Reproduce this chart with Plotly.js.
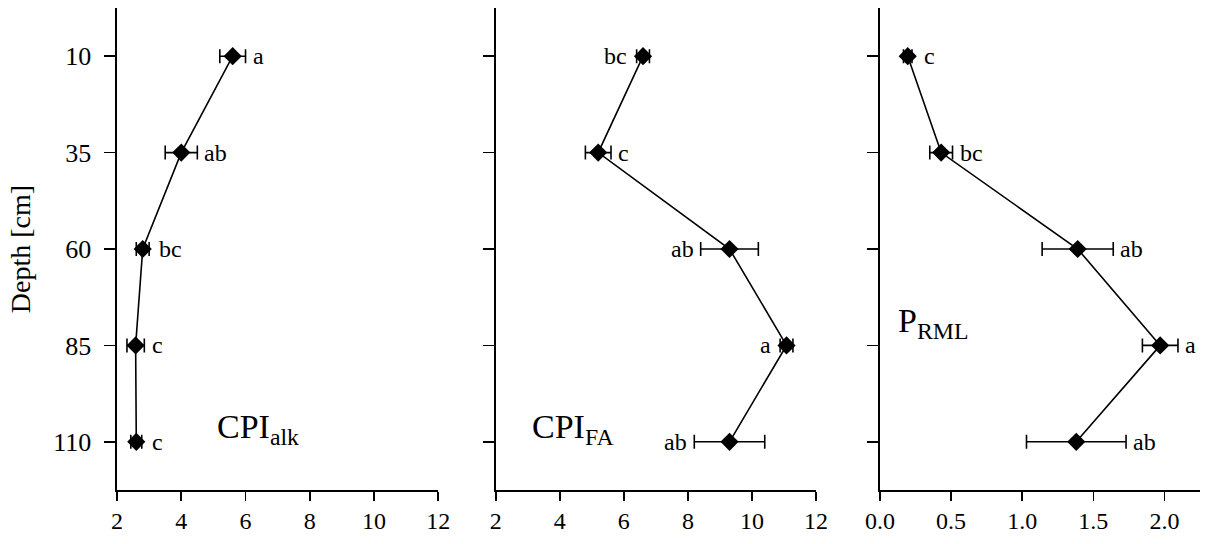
<!DOCTYPE html>
<html>
<head>
<meta charset="utf-8">
<script src="https://cdn.plot.ly/plotly-3.0.1.min.js"></script>
<style>html,body{margin:0;padding:0;background:#fff;}#chart{width:1208px;height:544px;}</style>
</head>
<body>
<div id="chart"></div>
<script>
// Depth levels [cm]
var depths = [10, 35, 60, 85, 110];
var depthTicks = ['10', '35', '60', '85', '110'];

// CPI alk
var cpiAlk = [5.6, 4.0, 2.8, 2.58, 2.6];
var cpiAlkErr = [0.4, 0.5, 0.2, 0.27, 0.17];
var cpiAlkLetters = ['a', 'ab', 'bc', 'c', 'c'];
var cpiAlkSide = ['r', 'r', 'r', 'r', 'r'];

// CPI FA
var cpiFA = [6.6, 5.2, 9.3, 11.08, 9.3];
var cpiFAErr = [0.2, 0.4, 0.9, 0.2, 1.1];
var cpiFALetters = ['bc', 'c', 'ab', 'a', 'ab'];
var cpiFASide = ['l', 'r', 'l', 'l', 'l'];

// P RML
var pRML = [0.195, 0.43, 1.39, 1.97, 1.38];
var pRMLErr = [0.03, 0.08, 0.25, 0.125, 0.35];
var pRMLLetters = ['c', 'bc', 'ab', 'a', 'ab'];
var pRMLSide = ['r', 'r', 'r', 'r', 'r'];

var serif = 'Liberation Serif, Times New Roman, serif';
var W = 1208;
var dom1 = [117 / W, 438.3 / W], dom2 = [495.7 / W, 816 / W], dom3 = [880 / W, 1200 / W];
var rng1 = [2, 12], rng2 = [2, 12], rng3 = [0, 2.25];

function panel(xv, err, xa, ya) {
  return {
    x: xv, y: depths, xaxis: xa, yaxis: ya,
    type: 'scatter', mode: 'lines+markers',
    line: {color: '#000', width: 1.6},
    marker: {symbol: 'diamond', size: 14, color: '#000'},
    error_x: {type: 'data', array: err, visible: true, color: '#000', thickness: 1.6, width: 7},
    showlegend: false, hoverinfo: 'x+y'
  };
}

var data = [
  panel(cpiAlk, cpiAlkErr, 'x', 'y'),
  panel(cpiFA, cpiFAErr, 'x2', 'y2'),
  panel(pRML, pRMLErr, 'x3', 'y3')
];

var annotations = [];
function letters(xv, err, lab, side, xa, ya, dom, rng) {
  var pxPerUnit = (dom[1] - dom[0]) * W / (rng[1] - rng[0]);
  for (var i = 0; i < xv.length; i++) {
    var right = side[i] === 'r';
    var off = Math.max(err[i] * pxPerUnit, 9) + 5;
    annotations.push({
      x: xv[i], y: depths[i],
      xref: xa, yref: ya, text: lab[i], showarrow: false,
      xanchor: right ? 'left' : 'right', yanchor: 'middle',
      xshift: right ? off : -off,
      font: {family: serif, size: 24, color: '#000'}
    });
  }
}
letters(cpiAlk, cpiAlkErr, cpiAlkLetters, cpiAlkSide, 'x', 'y', dom1, rng1);
letters(cpiFA, cpiFAErr, cpiFALetters, cpiFASide, 'x2', 'y2', dom2, rng2);
letters(pRML, pRMLErr, pRMLLetters, pRMLSide, 'x3', 'y3', dom3, rng3);

var titleFont = {family: serif, size: 34, color: '#000'};
annotations.push({xref: 'x domain', yref: 'y domain', x: 0.305, y: 0.126, xanchor: 'left', yanchor: 'middle', text: 'CPI<sub>alk</sub>', showarrow: false, font: titleFont});
annotations.push({xref: 'x2 domain', yref: 'y2 domain', x: 0.108, y: 0.126, xanchor: 'left', yanchor: 'middle', text: 'CPI<sub>FA</sub>', showarrow: false, font: titleFont});
annotations.push({xref: 'x3 domain', yref: 'y3 domain', x: 0.05, y: 0.346, xanchor: 'left', yanchor: 'middle', text: 'P<sub>RML</sub>', showarrow: false, font: titleFont});

function xax(dom, range, dtick, fmt, anchor) {
  return {
    domain: dom, range: range, anchor: anchor,
    showline: true, linecolor: '#000', linewidth: 1.6,
    ticks: 'outside', ticklen: 9, tickwidth: 1.6, tickcolor: '#000',
    tick0: 0, dtick: dtick, tickformat: fmt,
    showgrid: false, zeroline: false,
    tickfont: {family: serif, size: 24, color: '#000'},
    fixedrange: true
  };
}
function yax(anchor, labels) {
  return {
    domain: [1 - 490 / 544, 1 - 8 / 544], range: [122.5, -2.5], anchor: anchor,
    showline: true, linecolor: '#000', linewidth: 1.6,
    ticks: 'outside', ticklen: 11, tickwidth: 1.6, tickcolor: '#000',
    tickmode: 'array', tickvals: depths, ticktext: depthTicks,
    showticklabels: labels, ticklabelstandoff: 8,
    showgrid: false, zeroline: false,
    tickfont: {family: serif, size: 26, color: '#000'},
    fixedrange: true
  };
}

var y1 = yax('x', true);
y1.title = {text: 'Depth [cm]', font: {family: serif, size: 28, color: '#000'}, standoff: 14};

var layout = {
  width: 1208, height: 544,
  margin: {l: 0, r: 0, t: 0, b: 0},
  paper_bgcolor: '#fff', plot_bgcolor: '#fff',
  xaxis: xax(dom1, rng1, 2, 'd', 'y'),
  xaxis2: xax(dom2, rng2, 2, 'd', 'y2'),
  xaxis3: xax(dom3, rng3, 0.5, '.1f', 'y3'),
  yaxis: y1,
  yaxis2: yax('x2', false),
  yaxis3: yax('x3', false),
  annotations: annotations
};

Plotly.newPlot('chart', data, layout, {displayModeBar: false, staticPlot: true});
</script>
</body>
</html>
